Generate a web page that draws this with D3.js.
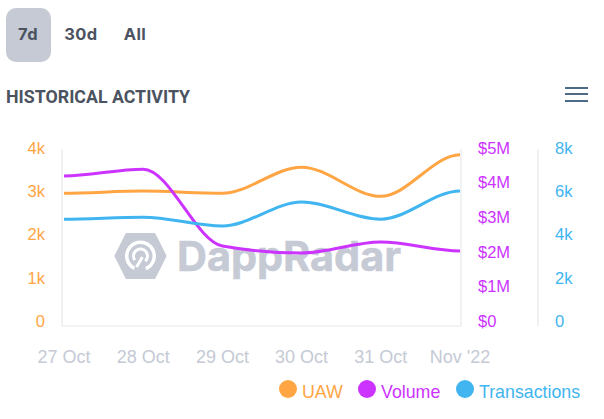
<!DOCTYPE html>
<html>
<head>
<meta charset="utf-8">
<script src="https://cdn.jsdelivr.net/npm/d3@7"></script>
<style>
  html, body { margin: 0; padding: 0; background: #fff; }
  svg { display: block; }
  text { font-family: "Liberation Sans", sans-serif; }
  .domain { display: none; }
</style>
</head>
<body>
<svg id="chart" width="604" height="419"></svg>
<script>
// Chart values
const days = ['27 Oct', '28 Oct', '29 Oct', '30 Oct', '31 Oct', "Nov '22"];
const uaw = [3000, 3050, 3000, 3590, 2930, 3870];
const volume = [4240000, 4430000, 2260000, 2060000, 2370000, 2120000];
const transactions = [4830, 4920, 4520, 5600, 4830, 6100];

const uawTicks = [0, 1000, 2000, 3000, 4000];
const volumeTicks = [0, 1000000, 2000000, 3000000, 4000000, 5000000];
const transactionTicks = [0, 2000, 4000, 6000, 8000];
const periods = ['7d', '30d', 'All'];
const legendNames = ['UAW', 'Volume', 'Transactions'];

const ORANGE = '#ffa544';
const PURPLE = '#cc33ff';
const BLUE = '#40b5f0';
const GREY = '#c5cad5';
const DARK = '#4b5361';

const svg = d3.select('#chart');

// Plot area
const plotLeft = 62;
const plotRight = 461;
const plotTop = 149;
const plotBottom = 326;

const x = d3.scalePoint().domain(days).range([64, 460]);
const yUaw = d3.scaleLinear().domain([0, 4000]).range([plotBottom, plotTop]);
const yVolume = d3.scaleLinear().domain([0, 5000000]).range([plotBottom, plotTop]);
const yTransactions = d3.scaleLinear().domain([0, 8000]).range([plotBottom, plotTop]);

// The tick labels sit on a slightly shorter span than the plot
const labelRange = [321, 148];
const labelUaw = yUaw.copy().range(labelRange);
const labelVolume = yVolume.copy().range(labelRange);
const labelTransactions = yTransactions.copy().range(labelRange);

// Monotone curve like curveMonotoneX, but flat at both ends of the line
const curveFlatEnds = (context) => {
  let pts = [];
  return {
    areaStart() {},
    areaEnd() {},
    lineStart() { pts = []; },
    point(px, py) { pts.push([+px, +py]); },
    lineEnd() {
      const slopeAt = (i) => {
        if (i === 0 || i === pts.length - 1) return 0;
        const h0 = pts[i][0] - pts[i - 1][0];
        const h1 = pts[i + 1][0] - pts[i][0];
        const s0 = (pts[i][1] - pts[i - 1][1]) / h0;
        const s1 = (pts[i + 1][1] - pts[i][1]) / h1;
        const p = (s0 * h1 + s1 * h0) / (h0 + h1);
        return (Math.sign(s0) + Math.sign(s1))
          * Math.min(Math.abs(s0), Math.abs(s1), 0.5 * Math.abs(p));
      };
      pts.forEach((pt, i) => {
        if (i === 0) {
          context.moveTo(pt[0], pt[1]);
          return;
        }
        const prev = pts[i - 1];
        const third = (pt[0] - prev[0]) / 3;
        context.bezierCurveTo(
          prev[0] + third, prev[1] + third * slopeAt(i - 1),
          pt[0] - third, pt[1] - third * slopeAt(i),
          pt[0], pt[1],
        );
      });
    },
  };
};

// Period buttons
svg.append('rect')
  .attr('x', 6).attr('y', 8)
  .attr('width', 45).attr('height', 54)
  .attr('rx', 10)
  .attr('fill', GREY);

const periodX = [28, 81, 135];
svg.selectAll('.period')
  .data(periods)
  .join('text')
  .attr('class', 'period')
  .attr('x', (d, i) => periodX[i])
  .attr('y', 40)
  .attr('text-anchor', 'middle')
  .attr('fill', DARK)
  .style('font-family', 'Inter, Roboto, sans-serif')
  .style('font-size', '16.5px')
  .style('letter-spacing', '0.4px')
  .style('font-weight', 700)
  .text(d => d);

// Title
svg.append('text')
  .attr('x', 6).attr('y', 103)
  .attr('fill', DARK)
  .style('font-family', 'Roboto, sans-serif')
  .style('font-size', '17.8px')
  .style('font-weight', 700)
  .text('HISTORICAL ACTIVITY');

// Menu icon
[88, 94, 101].forEach((lineY) => {
  svg.append('line')
    .attr('x1', 565).attr('x2', 588)
    .attr('y1', lineY).attr('y2', lineY)
    .attr('stroke', '#4d6a86')
    .attr('stroke-width', 2);
});

// Watermark
const logo = svg.append('g').attr('transform', 'translate(140.5,256)');
logo.append('path')
  .attr('d', 'M-25,0L-14,-22H14L25,0L14,22H-14Z')
  .attr('fill', GREY)
  .attr('stroke', GREY)
  .attr('stroke-width', 2)
  .attr('stroke-linejoin', 'round');
const ringArc = d3.arc();
[
  { inner: 12, outer: 15.5, start: -2.68, end: 2.75 },
  { inner: 5.5, outer: 8.5, start: -2.2, end: 2.4 },
].forEach((ring) => {
  logo.append('path')
    .attr('d', ringArc({
      innerRadius: ring.inner,
      outerRadius: ring.outer,
      startAngle: ring.start,
      endAngle: ring.end,
    }))
    .attr('fill', '#fff');
});
logo.append('line')
  .attr('x1', -4).attr('y1', 11)
  .attr('x2', 2).attr('y2', 1)
  .attr('stroke', '#fff')
  .attr('stroke-width', 3);

svg.append('text')
  .attr('x', 177).attr('y', 271)
  .attr('fill', GREY)
  .attr('stroke', GREY)
  .attr('stroke-width', 0.5)
  .style('font-family', 'Inter, Roboto, sans-serif')
  .style('font-size', '41.4px')
  .style('font-weight', 700)
  .text('DappRadar');

// Axis lines
const axisColor = '#e6e8ec';
[plotLeft, plotRight, 538].forEach((lineX) => {
  svg.append('line')
    .attr('x1', lineX).attr('x2', lineX)
    .attr('y1', plotTop).attr('y2', plotBottom)
    .attr('stroke', axisColor)
    .attr('stroke-width', 1.2);
});
svg.append('line')
  .attr('x1', plotLeft).attr('x2', plotRight)
  .attr('y1', plotBottom).attr('y2', plotBottom)
  .attr('stroke', axisColor)
  .attr('stroke-width', 1.2);

// Axes, the tick labels only
const kFormat = d => (d === 0 ? '0' : `${d / 1000}k`);
const moneyFormat = d => (d === 0 ? '$0' : `$${d / 1000000}M`);

const styleAxis = (g, color, size) => {
  g.selectAll('text')
    .attr('fill', color)
    .style('font-family', '"Liberation Sans", sans-serif')
    .style('font-size', `${size}px`);
  g.selectAll('line').remove();
};

svg.append('g')
  .attr('transform', 'translate(45,0)')
  .call(d3.axisLeft(labelUaw).tickValues(uawTicks).tickFormat(kFormat).tickSize(0).tickPadding(0))
  .call(styleAxis, ORANGE, 16.5);

svg.append('g')
  .attr('transform', 'translate(478,0)')
  .call(d3.axisRight(labelVolume).tickValues(volumeTicks).tickFormat(moneyFormat).tickSize(0).tickPadding(0))
  .call(styleAxis, PURPLE, 16.5);

svg.append('g')
  .attr('transform', 'translate(555,0)')
  .call(d3.axisRight(labelTransactions).tickValues(transactionTicks).tickFormat(kFormat).tickSize(0).tickPadding(0))
  .call(styleAxis, BLUE, 16.5);

svg.append('g')
  .attr('transform', 'translate(-0.5,350)')
  .call(d3.axisBottom(x).tickSize(0).tickPadding(0))
  .call(styleAxis, GREY, 18);

// Lines
const drawLine = (values, scale, color) => {
  const line = d3.line()
    .x((d, i) => x(days[i]))
    .y(d => scale(d))
    .curve(curveFlatEnds);
  svg.append('path')
    .datum(values)
    .attr('d', line)
    .attr('fill', 'none')
    .attr('stroke', color)
    .attr('stroke-width', 3);
};

drawLine(uaw, yUaw, ORANGE);
drawLine(volume, yVolume, PURPLE);
drawLine(transactions, yTransactions, BLUE);

// Legend
const legendColors = [ORANGE, PURPLE, BLUE];
const legendDotX = [288, 367, 465];
const legend = svg.selectAll('.legend-item')
  .data(legendNames)
  .join('g')
  .attr('class', 'legend-item');
legend.append('circle')
  .attr('cx', (d, i) => legendDotX[i])
  .attr('cy', 389)
  .attr('r', 9)
  .attr('fill', (d, i) => legendColors[i]);
legend.append('text')
  .attr('x', (d, i) => legendDotX[i] + 14)
  .attr('y', 398)
  .attr('fill', (d, i) => legendColors[i])
  .style('font-size', '17.8px')
  .text(d => d);
</script>
</body>
</html>
